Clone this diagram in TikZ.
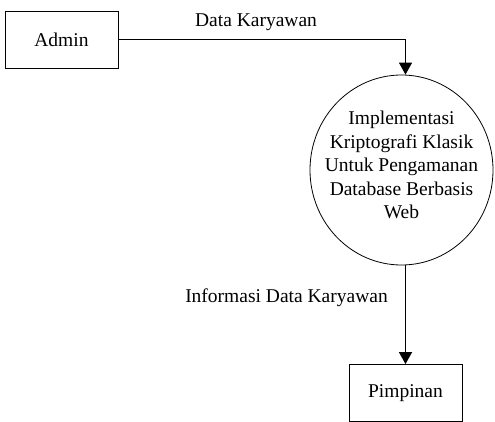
\documentclass[tikz,border=0pt]{standalone}
\usepackage{fontspec}
\setmainfont{Liberation Serif}
\usetikzlibrary{arrows.meta,shapes.geometric}
\begin{document}
\begin{tikzpicture}[x=1pt,y=-1pt,
  every node/.style={font=\fontsize{19.5}{23.5}\selectfont},
  entity/.style={draw,line width=0.8pt,minimum width=113pt,minimum height=57pt,inner sep=0pt},
  process/.style={draw,line width=0.8pt,ellipse,minimum width=183pt,minimum height=190pt,inner sep=0pt},
  proctext/.style={align=center,inner sep=0pt},
  flow/.style={line width=1.3pt,-{Triangle[length=12pt,width=13pt]}},
  flowlabel/.style={inner sep=0pt}]
\useasboundingbox (0,0) rectangle (495,422);
\node[entity] (admin) at (61.5,39.5) {Admin};
% the process bubble and its caption
\node[process] (proc) at (401.5,170) {};
\node[proctext] (proclbl) at ([yshift=5pt]proc.center) {Implementasi\\Kriptografi Klasik\\Untuk Pengamanan\\Database Berbasis\\Web};
\node[entity] (pimpinan) at (405.5,393) {Pimpinan};
\draw[flow] (admin.east) -| ([xshift=4pt]proc.north);
\draw[flow] ([xshift=4pt]proc.south) -- (pimpinan.north);
\node[flowlabel] (lbl1) at (256,22) {Data Karyawan};
\node[flowlabel] (lbl2) at (286.5,298) {Informasi Data Karyawan};
\end{tikzpicture}
\end{document}
